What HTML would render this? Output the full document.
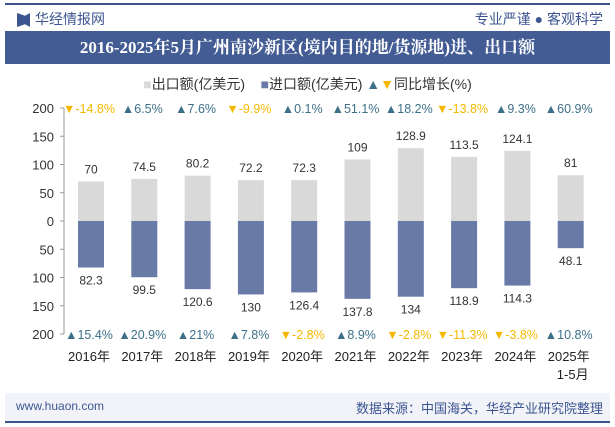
<!DOCTYPE html>
<html><head><meta charset="utf-8"><style>
body{margin:0;width:615px;height:427px;background:#fff;font-family:"Liberation Sans","Noto Sans CJK SC",sans-serif;overflow:hidden;position:relative}
.abs{position:absolute}
</style></head><body>
<div class="abs" style="left:5px;top:3px;width:605px;height:2px;background:#3c5591"></div>
<div class="abs" style="left:17px;top:13px;width:8px;height:14px;background:#3c5591;clip-path:polygon(0 0,100% 20%,100% 80%,0 100%)"></div>
<div class="abs" style="left:25px;top:13px;width:5px;height:14px;background:#3c5591;clip-path:polygon(0 20%,100% 0,100% 100%,0 80%)"></div>
<div class="abs" style="left:35px;top:9px;font-size:14px;color:#3c5591">华经情报网</div>
<div class="abs" style="right:12px;top:9px;font-size:14px;color:#3c5591">专业严谨 ● 客观科学</div>
<div class="abs" style="left:5px;top:31px;width:605px;height:33px;background:#435c94;color:#fff;font-size:17px;font-weight:bold;text-align:center;line-height:33px;font-family:'Liberation Serif','Noto Serif CJK SC',serif">2016-2025年5月广州南沙新区(境内目的地/货源地)进、出口额</div>
<div class="abs" style="left:0;top:74px;width:615px;text-align:center;font-size:14px;color:#333">
<span><span style="color:#d9d9d9">■</span>出口额(亿美元)</span>&nbsp;&nbsp;&nbsp;
<span><span style="color:#6a7aa6">■</span>进口额(亿美元)</span>
<span><span style="color:#3d7088">▲</span><span style="color:#f5b800">▼</span>同比增长(%)</span></div>
<svg class="abs" style="left:0;top:0" width="615" height="427" id="chart"></svg>
<div class="abs" style="left:5px;top:393px;width:605px;height:28px;background:#f1f3f8"></div>
<div class="abs" style="left:16px;top:399px;font-size:12px;color:#3c5591">www.huaon.com</div>
<div class="abs" style="right:12px;top:398px;font-size:13px;color:#3c5591">数据来源：中国海关，华经产业研究院整理</div>
<div class="abs" style="left:5px;top:421px;width:605px;height:2px;background:#3c5591"></div>
<script>
const categories=["2016年","2017年","2018年","2019年","2020年","2021年","2022年","2023年","2024年","2025年"];
const exportVals=[70,74.5,80.2,72.2,72.3,109,128.9,113.5,124.1,81];
const importVals=[82.3,99.5,120.6,130,126.4,137.8,134,118.9,114.3,48.1];
const exportGrowth=[-14.8,6.5,7.6,-9.9,0.1,51.1,18.2,-13.8,9.3,60.9];
const importGrowth=[15.4,20.9,21,7.8,-2.8,8.9,-2.8,-11.3,-3.8,10.8];
const yTicks=[200,150,100,50,0,50,100,150,200];
const svg=document.getElementById('chart');const NS='http://www.w3.org/2000/svg';
const y0=221,k=0.565,x0=91,dx=53.3,bw=26;
const y=v=>y0-v*k;const x=i=>x0+i*dx;
function el(t,a,txt){const e=document.createElementNS(NS,t);for(const n in a)e.setAttribute(n,a[n]);if(txt!==undefined)e.textContent=txt;svg.appendChild(e);return e;}
const ax=el('line',{x1:64,x2:64,y1:y(200),y2:y(-200),stroke:'#999'});

yTicks.forEach((t,i)=>{const v=200-i*50;
const tl=el('text',{x:54,y:y(v)+5,'text-anchor':'end','font-size':13,fill:'#333'},t);

const tk=el('line',{x1:60,x2:64,y1:y(v),y2:y(v),stroke:'#999'});
});
categories.forEach((c,i)=>{const cx=x(i);
const b1=el('rect',{x:cx-bw/2,y:y(exportVals[i]),width:bw,height:exportVals[i]*k,fill:'#d9d9d9'});

const b2=el('rect',{x:cx-bw/2,y:y0,width:bw,height:importVals[i]*k,fill:'#6a7aa6'});

const l1=el('text',{x:cx,y:y(exportVals[i])-8,'text-anchor':'middle','font-size':12,fill:'#333'},exportVals[i]);

const l2=el('text',{x:cx,y:y(-importVals[i])+17,'text-anchor':'middle','font-size':12,fill:'#333'},importVals[i]);

[[exportGrowth[i],y(200)+5,'export-growth'],[importGrowth[i],y(-200)+5,'import-growth']].forEach(([g,yy,nm])=>{
const up=g>=0;const t=el('text',{x:cx-2,y:yy,'text-anchor':'middle','font-size':12.5,fill:up?'#3d7088':'#f5b800'},(up?'▲':'▼')+g+'%');
});
const cl=el('text',{x:cx-2,y:361,'text-anchor':'middle','font-size':13,fill:'#222'},c);

});
const sub=el('text',{x:x(9)+2,y:379,'text-anchor':'middle','font-size':13,fill:'#222'},'1-5月');

</script>
</body></html>
